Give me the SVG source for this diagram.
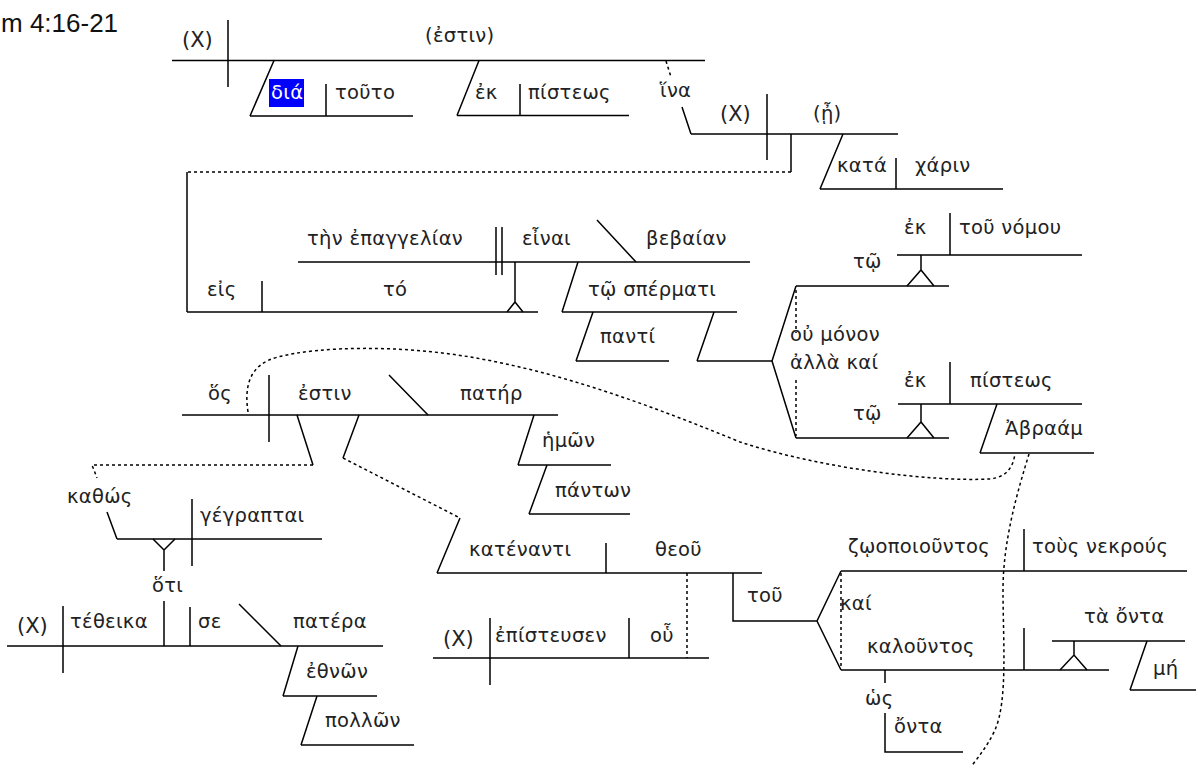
<svg xmlns="http://www.w3.org/2000/svg" width="1196" height="765" viewBox="0 0 1196 765">
<style>
.l{stroke:#000;stroke-width:1.5;fill:none}
.d{stroke:#000;stroke-width:1.5;fill:none;stroke-dasharray:3 3}
.g{font-family:"DejaVu Sans","Noto Sans",sans-serif;font-size:19.5px;letter-spacing:0.3px;fill:#222}
.x{font-family:"DejaVu Sans","Noto Sans",sans-serif;font-size:21px;fill:#222}
.t{font-family:"Liberation Sans",Arial,sans-serif;font-size:26px;fill:#111}
</style>
<rect width="1196" height="765" fill="#fff"/>
<text class="t" x="1" y="32">m 4:16-21</text>

<g id="connectors">
<path class="l" d="M228,20V87M274,60.5L250,116M479,60.5L457,115.5M682,107L691,134"/>
<path class="d" d="M666,61L671,77"/>
<path class="l" d="M767,94V160M791,134V172M843,134L820,189"/>
<path class="d" d="M791,172H187"/>
<path class="l" d="M187,172V312M262,281V312M496,227V275M502,227V275M515,262V302M507,312L515,302L523,312M597,220L636,262"/>
<path class="l" d="M578,262L562,312M593,312L576,361M714,312L697,361M796,286L772,361L796,438"/>
<path class="d" d="M796,290V333M796,380V436"/>
<path class="l" d="M921,255V270M907,286L921,270L934,286M921,404V422M907,438L921,422L934,438M997,404L980,453"/>
<path class="l" d="M269,375V442M389,375L428,415M534,415L518,465M547,465L529,514M297,415L313,465M107,512L117,539M359,415L343,458M460,518L437,573"/>
<path class="d" d="M313,465H92L97,478M343,458L460,518"/>
<path class="d" d="M248,412C244,385 250,364 278,357C320,346 400,345 470,357C560,372 650,405 740,442C820,468 930,482 990,479C1008,477 1013,466 1015,454"/>
<path class="d" d="M1029,454C1018,490 1003,540 1003,590C1003,640 1008,700 995,730C988,745 980,755 970,768"/>
<path class="l" d="M192,499V566M153,539L164,550L175,539M164,550V571M164,601V646"/>
<path class="l" d="M63,606V673M190,607V646M239,604L281,646M298,646L283,696M317,696L301,745"/>
<path class="l" d="M606,543V573M733,573V621H817M841,571L817,621L841,670M1024,529V571M1024,628V670M1060,670L1074,655L1087,670M1074,655V641M1147,641L1130,690M885,670V683M885,713V752H963"/>
<path class="d" d="M687,573V658M841,573V669"/>
<path class="l" d="M490,618V685M629,618V658"/>
</g>

<g id="n-main1"><path class="l" d="M172,60.5H705"/><text class="x" x="182" y="47">(X)</text><text class="g" x="425" y="42">(ἐστιν)</text></g>
<g id="n-dia"><path class="l" d="M250,116H413M326,84V116"/><rect x="269" y="79" width="35" height="28" fill="#0000ff"/><text class="g" x="271" y="99" style="fill:#fff">διά</text><text class="g" x="335" y="99">τοῦτο</text></g>
<g id="n-ek1"><path class="l" d="M457,115.5H629M520,84V115.5"/><text class="g" x="475" y="99">ἐκ</text><text class="g" x="528" y="99">πίστεως</text></g>
<g id="n-hina"><text class="g" x="660" y="97">ἵνα</text></g>
<g id="n-main2"><path class="l" d="M691,134H898"/><text class="x" x="720" y="121">(X)</text><text class="g" x="813" y="120">(ᾖ)</text></g>
<g id="n-kata"><path class="l" d="M820,189H1003M896,158V189"/><text class="g" x="837" y="172">κατά</text><text class="g" x="915" y="172">χάριν</text></g>
<g id="n-eis"><path class="l" d="M187,312H538"/><text class="g" x="207" y="296">εἰς</text><text class="g" x="383" y="296">τό</text></g>
<g id="n-einai"><path class="l" d="M298,262H750"/><text class="g" x="307" y="245">τὴν ἐπαγγελίαν</text><text class="g" x="522" y="245">εἶναι</text><text class="g" x="646" y="245">βεβαίαν</text></g>
<g id="n-sperm"><path class="l" d="M562,312H737"/><text class="g" x="588" y="296">τῷ σπέρματι</text></g>
<g id="n-panti"><path class="l" d="M576,361H669"/><text class="g" x="600" y="343">παντί</text></g>
<g id="n-ou"><path class="l" d="M697,361H772"/><text class="g" x="790" y="341">οὐ μόνον</text><text class="g" x="790" y="369">ἀλλὰ καί</text></g>
<g id="n-tw1"><path class="l" d="M796,286H949M897,255H1082M950,213V255"/><text class="g" x="853" y="268">τῷ</text><text class="g" x="904" y="234">ἐκ</text><text class="g" x="959" y="234">τοῦ νόμου</text></g>
<g id="n-tw2"><path class="l" d="M796,438H949M898,404H1082M950,362V404"/><text class="g" x="853" y="420">τῷ</text><text class="g" x="904" y="387">ἐκ</text><text class="g" x="970" y="387">πίστεως</text></g>
<g id="n-abr"><path class="l" d="M980,453H1094"/><text class="g" x="1005" y="435">Ἀβραάμ</text></g>
<g id="n-hos"><path class="l" d="M182,415H558"/><text class="g" x="208" y="400">ὅς</text><text class="g" x="298" y="400">ἐστιν</text><text class="g" x="460" y="400">πατήρ</text></g>
<g id="n-hmwn"><path class="l" d="M518,465H611"/><text class="g" x="542" y="447">ἡμῶν</text></g>
<g id="n-pantwn"><path class="l" d="M529,514H630"/><text class="g" x="555" y="497">πάντων</text></g>
<g id="n-kathws"><path class="l" d="M117,539H322"/><text class="g" x="67" y="503">καθώς</text><text class="g" x="200" y="522">γέγραπται</text></g>
<g id="n-hoti"><text class="g" x="152" y="592">ὅτι</text></g>
<g id="n-teth"><path class="l" d="M7,646H383"/><text class="x" x="17" y="633">(X)</text><text class="g" x="70" y="628">τέθεικα</text><text class="g" x="198" y="628">σε</text><text class="g" x="293" y="628">πατέρα</text></g>
<g id="n-ethnwn"><path class="l" d="M283,696H377"/><text class="g" x="306" y="678">ἐθνῶν</text></g>
<g id="n-pollwn"><path class="l" d="M301,745H414"/><text class="g" x="325" y="727">πολλῶν</text></g>
<g id="n-katen"><path class="l" d="M437,573H762"/><text class="g" x="469" y="556">κατέναντι</text><text class="g" x="655" y="556">θεοῦ</text></g>
<g id="n-epist"><path class="l" d="M433,658H709"/><text class="x" x="443" y="646">(X)</text><text class="g" x="495" y="642">ἐπίστευσεν</text><text class="g" x="650" y="642">οὗ</text></g>
<g id="n-tou"><text class="g" x="747" y="602">τοῦ</text></g>
<g id="n-zwop"><path class="l" d="M841,571H1187"/><text class="g" x="848" y="553">ζῳοποιοῦντος</text><text class="g" x="1032" y="553">τοὺς νεκρούς</text></g>
<g id="n-kai"><text class="g" x="840" y="610">καί</text></g>
<g id="n-kal"><path class="l" d="M841,670H1109"/><text class="g" x="867" y="653">καλοῦντος</text></g>
<g id="n-ta"><path class="l" d="M1052,641H1185"/><text class="g" x="1084" y="623">τὰ ὄντα</text></g>
<g id="n-mh"><path class="l" d="M1130,690H1196"/><text class="g" x="1153" y="675">μή</text></g>
<g id="n-hws"><text class="g" x="865" y="705">ὡς</text><text class="g" x="894" y="733">ὄντα</text></g>
</svg>
